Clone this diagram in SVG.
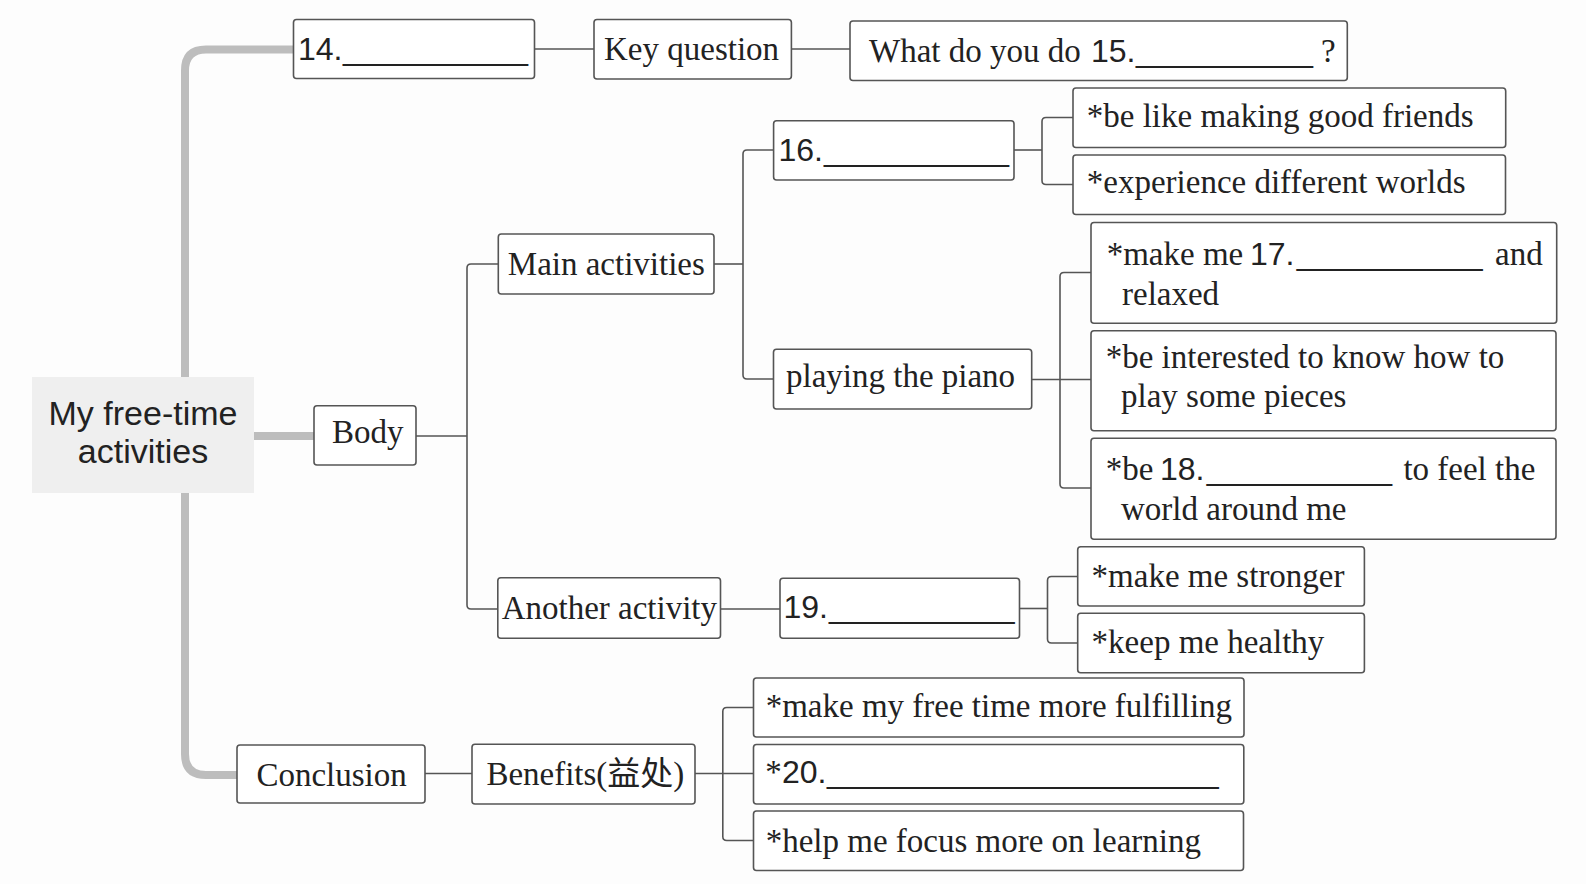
<svg xmlns="http://www.w3.org/2000/svg" width="1586" height="884" viewBox="0 0 1586 884">
<style>
.bg{fill:#fdfdfd}
.box{fill:#fff;stroke:#555;stroke-width:1.6}
.ln{fill:none;stroke:#555;stroke-width:1.6;stroke-linejoin:round}
.thick{fill:none;stroke:#bdbdbd;stroke-width:8;stroke-linejoin:round}
.t{font-family:"Liberation Serif","Noto Sans CJK SC",serif;font-size:33px;fill:#222}
.n{font-family:"Liberation Sans",Arial,sans-serif;font-size:32px;fill:#222}
.c{font-family:"Liberation Sans",Arial,sans-serif;font-size:34px;fill:#222}
</style>
<rect class="bg" x="0" y="0" width="1586" height="884"/>
<g id="connectors">
<path class="thick" d="M293.5,49.5 H206 Q185,49.5 185,70.5 V754 Q185,775 206,775 H237"/>
<path class="thick" d="M254,436 H314"/>
<path class="ln" d="M534.6,49 H594"/>
<path class="ln" d="M791.4,49 H850"/>
<path class="ln" d="M416,436 H467"/>
<path class="ln" d="M498,264 H471 Q467,264 467,268 V605 Q467,609 471,609 H498"/>
<path class="ln" d="M714,264 H743"/>
<path class="ln" d="M773.6,150 H747 Q743,150 743,154 V375 Q743,379 747,379 H773.5"/>
<path class="ln" d="M1014,150 H1042"/>
<path class="ln" d="M1073,117.5 H1046 Q1042,117.5 1042,121.5 V180.5 Q1042,184.5 1046,184.5 H1073"/>
<path class="ln" d="M1031.7,379.5 H1091"/>
<path class="ln" d="M1091,272.5 H1064 Q1060,272.5 1060,276.5 V484 Q1060,488 1064,488 H1091"/>
<path class="ln" d="M720.5,609 H780"/>
<path class="ln" d="M1019.5,608.5 H1047.5"/>
<path class="ln" d="M1077.7,576.5 H1051.5 Q1047.5,576.5 1047.5,580.5 V639 Q1047.5,643 1051.5,643 H1077.7"/>
<path class="ln" d="M425,773.5 H472"/>
<path class="ln" d="M695,773.5 H753.5"/>
<path class="ln" d="M753.5,707.5 H726.8 Q722.8,707.5 722.8,711.5 V836.5 Q722.8,840.5 726.8,840.5 H753.5"/>
</g>
<g id="center">
<rect x="32" y="377" width="222" height="116" fill="#efefef"/>
<text class="c" x="143" y="425" text-anchor="middle">My free-time</text>
<text class="c" x="143" y="463" text-anchor="middle">activities</text>
</g>
<g id="n14">
<rect class="box" x="293.5" y="19.5" width="241" height="59" rx="3"/>
<text class="n" y="60"><tspan x="298">14.</tspan><tspan x="343" textLength="185" lengthAdjust="spacingAndGlyphs">__________</tspan></text>
</g>
<g id="keyq">
<rect class="box" x="594" y="19.5" width="197.4" height="59.5" rx="3"/>
<text class="t" x="604" y="60">Key question</text>
</g>
<g id="what">
<rect class="box" x="850" y="21" width="497.3" height="59.5" rx="3"/>
<text class="t" y="62"><tspan x="869">What do you do</tspan><tspan class="n" x="1091">15.</tspan><tspan class="n" x="1136" textLength="177" lengthAdjust="spacingAndGlyphs">_________</tspan><tspan x="1321">?</tspan></text>
</g>
<g id="body">
<rect class="box" x="314" y="405.7" width="102" height="59.3" rx="3"/>
<text class="t" x="332" y="443">Body</text>
</g>
<g id="main">
<rect class="box" x="498.3" y="234" width="215.7" height="60" rx="3"/>
<text class="t" x="507.8" y="275">Main activities</text>
</g>
<g id="n16">
<rect class="box" x="773.6" y="120.7" width="240.4" height="59.3" rx="3"/>
<text class="n" y="161"><tspan x="778.5">16.</tspan><tspan x="824" textLength="185" lengthAdjust="spacingAndGlyphs">__________</tspan></text>
</g>
<g id="friends">
<rect class="box" x="1073" y="88" width="432.7" height="59.5" rx="3"/>
<text class="t" x="1086.8" y="127">*be like making good friends</text>
</g>
<g id="worlds">
<rect class="box" x="1073" y="155" width="432.5" height="59.5" rx="3"/>
<text class="t" x="1086.8" y="193">*experience different worlds</text>
</g>
<g id="piano">
<rect class="box" x="773.5" y="349.3" width="258.2" height="59.7" rx="3"/>
<text class="t" x="786" y="387">playing the piano</text>
</g>
<g id="n17">
<rect class="box" x="1091" y="222.5" width="465.7" height="100.8" rx="3"/>
<text class="t" y="265"><tspan x="1106.7">*make me</tspan><tspan class="n" x="1250">17.</tspan><tspan class="n" x="1296.7" textLength="186" lengthAdjust="spacingAndGlyphs">__________</tspan><tspan x="1495">and</tspan></text>
<text class="t" x="1122" y="305">relaxed</text>
</g>
<g id="interested">
<rect class="box" x="1091" y="330.7" width="465" height="100" rx="3"/>
<text class="t" x="1105.7" y="368">*be interested to know how to</text>
<text class="t" x="1121" y="407">play some pieces</text>
</g>
<g id="n18">
<rect class="box" x="1091" y="438.3" width="465" height="101" rx="3"/>
<text class="t" y="480"><tspan x="1105.7">*be</tspan><tspan class="n" x="1160">18.</tspan><tspan class="n" x="1206.8" textLength="185.2" lengthAdjust="spacingAndGlyphs">__________</tspan><tspan x="1403.4">to feel the</tspan></text>
<text class="t" x="1121" y="520">world around me</text>
</g>
<g id="another">
<rect class="box" x="497.8" y="577.7" width="222.7" height="60.6" rx="3"/>
<text class="t" x="501.7" y="619">Another activity</text>
</g>
<g id="n19">
<rect class="box" x="780" y="578.3" width="239.5" height="60" rx="3"/>
<text class="n" y="618"><tspan x="783.5">19.</tspan><tspan x="828.9" textLength="185.6" lengthAdjust="spacingAndGlyphs">__________</tspan></text>
</g>
<g id="stronger">
<rect class="box" x="1077.7" y="546.7" width="286.7" height="59.3" rx="3"/>
<text class="t" x="1091.6" y="587">*make me stronger</text>
</g>
<g id="healthy">
<rect class="box" x="1077.7" y="613.3" width="286.7" height="59.4" rx="3"/>
<text class="t" x="1091.6" y="653">*keep me healthy</text>
</g>
<g id="conclusion">
<rect class="box" x="237" y="745" width="188" height="58" rx="3"/>
<text class="t" x="256.4" y="786">Conclusion</text>
</g>
<g id="benefits">
<rect class="box" x="472" y="744.3" width="223" height="59.7" rx="3"/>
<text class="t" x="486.4" y="785">Benefits(益处)</text>
</g>
<g id="fulfilling">
<rect class="box" x="753.5" y="678" width="490.5" height="59" rx="3"/>
<text class="t" x="765.7" y="717">*make my free time more fulfilling</text>
</g>
<g id="n20">
<rect class="box" x="753.5" y="744.5" width="490.3" height="59.5" rx="3"/>
<text class="t" y="783"><tspan x="765.2">*</tspan><tspan class="n" x="782">20.</tspan><tspan class="n" x="827" textLength="391.6" lengthAdjust="spacingAndGlyphs">_____________________</tspan></text>
</g>
<g id="learning">
<rect class="box" x="753.5" y="811" width="490" height="59.5" rx="3"/>
<text class="t" x="765.7" y="852">*help me focus more on learning</text>
</g>
</svg>
